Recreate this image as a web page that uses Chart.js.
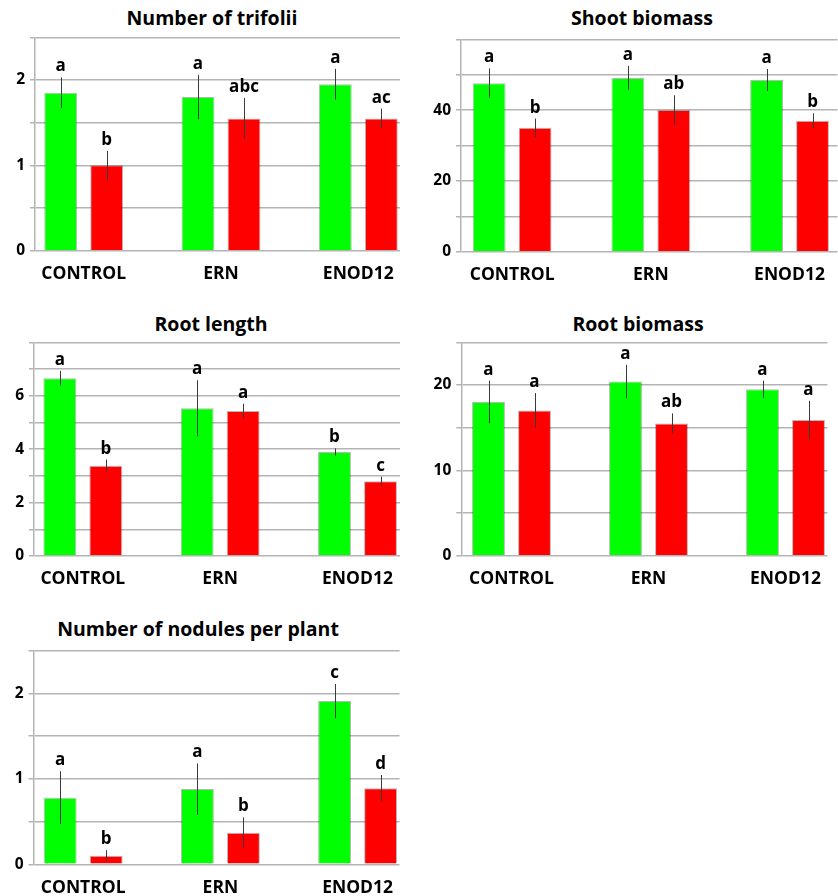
<!DOCTYPE html>
<html lang="en">
<head>
    <meta charset="UTF-8">
    <title>Plant growth panels</title>
    <script src="https://cdn.jsdelivr.net/npm/chart.js"></script>
    <style>
        body { margin: 0; background: #fff; }
        #page { position: relative; width: 838px; height: 896px; overflow: hidden; }
        .panel { position: absolute; }
        .title {
            position: absolute;
            transform: translateX(-50%);
            white-space: nowrap;
            font: bold 19.5px "Open Sans", sans-serif;
            line-height: 19.5px;
            color: #000;
        }
    </style>
</head>
<body>
<div id="page"></div>

<script>
const groups = ["CONTROL", "ERN", "ENOD12"];

// number of trifolii
const trifoliiGreen = [1.85, 1.80, 1.95];
const trifoliiGreenErr = [0.18, 0.26, 0.18];
const trifoliiRed = [1.00, 1.55, 1.55];
const trifoliiRedErr = [0.17, 0.24, 0.115];
const trifoliiGreenLetters = ["a", "a", "a"];
const trifoliiRedLetters = ["b", "abc", "ac"];

// shoot biomass
const shootGreen = [47.6, 49.1, 48.5];
const shootGreenErr = [4.2, 3.4, 3.1];
const shootRed = [35.0, 40.0, 37.0];
const shootRedErr = [2.6, 4.2, 2.1];
const shootGreenLetters = ["a", "a", "a"];
const shootRedLetters = ["b", "ab", "b"];

// root length
const rootLenGreen = [6.65, 5.53, 3.89];
const rootLenGreenErr = [0.28, 1.05, 0.14];
const rootLenRed = [3.38, 5.43, 2.80];
const rootLenRedErr = [0.23, 0.27, 0.17];
const rootLenGreenLetters = ["a", "a", "b"];
const rootLenRedLetters = ["b", "a", "c"];

// root biomass
const rootMassGreen = [18.0, 20.4, 19.5];
const rootMassGreenErr = [2.5, 1.95, 1.0];
const rootMassRed = [17.0, 15.5, 15.9];
const rootMassRedErr = [2.05, 1.17, 2.25];
const rootMassGreenLetters = ["a", "a", "a"];
const rootMassRedLetters = ["a", "ab", "a"];

// nodules per plant
const nodulesGreen = [0.78, 0.88, 1.91];
const nodulesGreenErr = [0.31, 0.30, 0.20];
const nodulesRed = [0.10, 0.37, 0.89];
const nodulesRedErr = [0.065, 0.18, 0.155];
const nodulesGreenLetters = ["a", "a", "c"];
const nodulesRedLetters = ["b", "b", "d"];


const FONT = '"Open Sans", sans-serif';
const GRID = "#b4b4b4";

// thin error line + significance letter above every bar
const errorBars = {
    id: "errorBars",
    afterDatasetsDraw(chart) {
        const ctx = chart.ctx;
        const y = chart.scales.y;
        chart.data.datasets.forEach((ds, i) => {
            chart.getDatasetMeta(i).data.forEach((bar, j) => {
                const mean = ds.data[j].y;
                const top = y.getPixelForValue(mean + ds.errors[j]);
                const bottom = y.getPixelForValue(mean - ds.errors[j]);
                const x = Math.round(bar.x) + 0.5;
                ctx.save();
                ctx.strokeStyle = "#3a3a3a";
                ctx.lineWidth = 1;
                ctx.beginPath();
                ctx.moveTo(x, top);
                ctx.lineTo(x, bottom);
                ctx.stroke();
                ctx.fillStyle = "#000";
                ctx.font = "bold 17px " + FONT;
                ctx.textAlign = "center";
                ctx.textBaseline = "alphabetic";
                ctx.fillText(ds.letters[j], bar.x, top - 6);
                ctx.restore();
            });
        });
    }
};

function addPanel(p) {
    const page = document.getElementById("page");
    const [bx, by, bw, bh] = p.box;

    const title = document.createElement("div");
    title.className = "title";
    title.textContent = p.title;
    title.style.left = p.titleX + "px";
    title.style.top = (p.titleBase - 17.3) + "px";
    page.appendChild(title);

    const canvas = document.createElement("canvas");
    canvas.className = "panel";
    canvas.width = bw;
    canvas.height = bh;
    canvas.style.left = bx + "px";
    canvas.style.top = by + "px";
    page.appendChild(canvas);

    const [pl, pt, pr, pb] = p.plot;
    const spacing = p.spacing;
    const toPoints = arr => arr.map((v, i) => ({ x: i, y: v }));

    new Chart(canvas.getContext("2d"), {
        type: "bar",
        data: {
            datasets: [
                {
                    data: toPoints(p.green),
                    errors: p.greenErr,
                    letters: p.greenLetters,
                    backgroundColor: "#00ff00",
                    borderColor: "rgba(0,0,0,0.28)",
                    borderWidth: 1
                },
                {
                    data: toPoints(p.red),
                    errors: p.redErr,
                    letters: p.redLetters,
                    backgroundColor: "#ff0000",
                    borderColor: "rgba(0,0,0,0.28)",
                    borderWidth: 1
                }
            ]
        },
        options: {
            responsive: false,
            animation: false,
            categoryPercentage: 92 / spacing,
            barPercentage: 0.715,
            layout: {
                padding: { top: pt - by, right: bx + bw - pr, left: 0, bottom: 0 }
            },
            plugins: {
                legend: { display: false },
                tooltip: { enabled: false }
            },
            scales: {
                x: {
                    type: "linear",
                    offset: false,
                    min: (pl - p.firstCenter) / spacing,
                    max: (pr - p.firstCenter) / spacing,
                    grid: { display: false, drawTicks: false },
                    border: { display: false },
                    afterBuildTicks: s => { s.ticks = groups.map((g, i) => ({ value: i })); },
                    afterFit: s => { s.height = by + bh - pb; },
                    ticks: {
                        color: "#000",
                        padding: 13,
                        maxRotation: 0,
                        autoSkip: false,
                        font: { family: FONT, size: 17.5, weight: "bold" },
                        callback: v => groups[v] ?? ""
                    }
                },
                y: {
                    min: 0,
                    max: p.yMax,
                    afterFit: s => { s.width = pl - bx; },
                    grid: { color: GRID, lineWidth: 1.5, tickLength: 5 },
                    border: { color: GRID, width: 1.5 },
                    ticks: {
                        stepSize: p.step,
                        color: "#000",
                        padding: 5,
                        font: { family: FONT, size: 15.5, weight: "bold" },
                        // gridline at every step, number only on the coarser marks below the top
                        callback: v => (v < p.yMax && Math.abs(v % p.labelEvery) < 1e-9 ? v : "")
                    }
                }
            }
        },
        plugins: [errorBars]
    });
}

addPanel({
    title: "Number of trifolii", titleX: 212, titleBase: 25,
    box: [0, 0, 418, 300], plot: [35, 37.3, 400, 250.7],
    firstCenter: 83.7, spacing: 137.3, yMax: 2.5, step: 0.5, labelEvery: 1,
    green: trifoliiGreen, greenErr: trifoliiGreenErr, greenLetters: trifoliiGreenLetters,
    red: trifoliiRed, redErr: trifoliiRedErr, redLetters: trifoliiRedLetters
});

addPanel({
    title: "Shoot biomass", titleX: 642, titleBase: 25.7,
    box: [418, 0, 420, 300], plot: [461, 39.3, 838, 251.7],
    firstCenter: 512.2, spacing: 138.9, yMax: 60, step: 10, labelEvery: 20,
    green: shootGreen, greenErr: shootGreenErr, greenLetters: shootGreenLetters,
    red: shootRed, redErr: shootRedErr, redLetters: shootRedLetters
});

addPanel({
    title: "Root length", titleX: 211, titleBase: 331,
    box: [0, 300, 418, 305], plot: [34, 342.3, 400, 556],
    firstCenter: 82.8, spacing: 137.35, yMax: 8, step: 1, labelEvery: 2,
    green: rootLenGreen, greenErr: rootLenGreenErr, greenLetters: rootLenGreenLetters,
    red: rootLenRed, redErr: rootLenRedErr, redLetters: rootLenRedLetters
});

addPanel({
    title: "Root biomass", titleX: 638, titleBase: 331,
    box: [418, 300, 420, 305], plot: [461.3, 342.3, 827.5, 555.7],
    firstCenter: 511.5, spacing: 137, yMax: 25, step: 5, labelEvery: 10,
    green: rootMassGreen, greenErr: rootMassGreenErr, greenLetters: rootMassGreenLetters,
    red: rootMassRed, redErr: rootMassRedErr, redLetters: rootMassRedLetters
});

addPanel({
    title: "Number of nodules per plant", titleX: 198, titleBase: 636.7,
    box: [0, 605, 418, 291], plot: [33.5, 650.7, 399.5, 864.3],
    firstCenter: 83.2, spacing: 137.2, yMax: 2.5, step: 0.5, labelEvery: 1,
    green: nodulesGreen, greenErr: nodulesGreenErr, greenLetters: nodulesGreenLetters,
    red: nodulesRed, redErr: nodulesRedErr, redLetters: nodulesRedLetters
});
</script>
</body>
</html>
